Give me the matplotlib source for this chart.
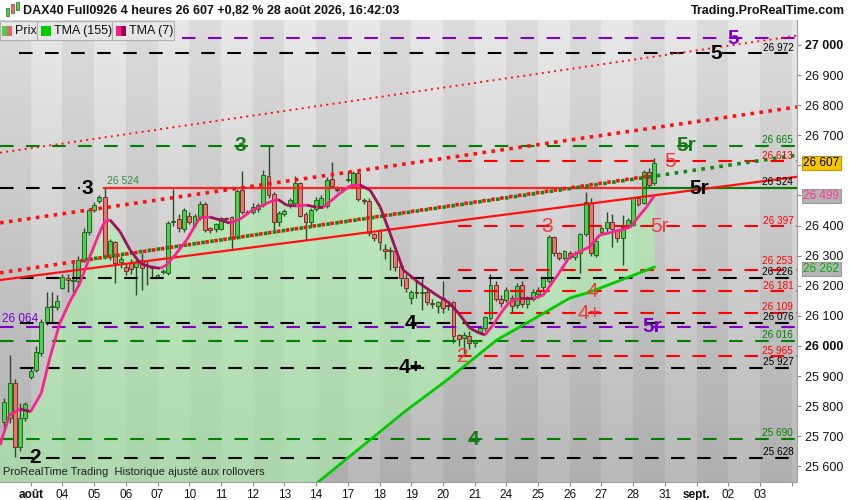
import numpy as np
import matplotlib.pyplot as plt
import matplotlib.transforms as mtransforms
from matplotlib.collections import LineCollection
from matplotlib.colors import LinearSegmentedColormap
from matplotlib.patches import Rectangle

plt.rcParams['font.family'] = ['Liberation Sans', 'DejaVu Sans']

# 4h candles, index 0 = first bar shown (31 juil.), 6 bars per day
opens = [25749, 25760, 25876, 25663, 25762, 25898, 25920, 25975, 26081, 26128,
         26131, 26194, 26226, 26215, 26216, 26286, 26378, 26452, 26480, 26496,
         26297, 26344, 26278, 26264, 26277, 26261, 26284, 26270, 26261, 26228,
         26246, 26241, 26411, 26421, 26388, 26433, 26402, 26428, 26472, 26391,
         26389, 26389, 26424, 26428, 26361, 26518, 26444, 26446, 26455, 26468,
         26565, 26505, 26411, 26438, 26468, 26476, 26540, 26437, 26411, 26455,
         26466, 26466, 26555, 26520, 26518, 26553, 26538, 26574, 26485, 26482,
         26371, 26383, 26321, 26318, 26317, 26266, 26227, 26161, 26178, 26176,
         26178, 26144, 26133, 26158, 26136, 26145, 26036, 26025, 26033, 26009,
         26048, 26059, 26092, 26203, 26155, 26153, 26158, 26136, 26203, 26138,
         26156, 26172, 26195, 26215, 26361, 26308, 26291, 26310, 26295, 26310,
         26372, 26474, 26302, 26380, 26391, 26412, 26385, 26358, 26402, 26402,
         26490, 26474, 26577, 26540]
highs = [25826, 25970, 25890, 25810, 25815, 25930, 26000, 26090, 26180, 26180,
         26170, 26238, 26240, 26286, 26300, 26391, 26460, 26478, 26500, 26524,
         26355, 26350, 26300, 26275, 26290, 26285, 26308, 26285, 26263, 26240,
         26255, 26415, 26520, 26440, 26460, 26445, 26440, 26480, 26478, 26395,
         26410, 26430, 26430, 26432, 26520, 26582, 26452, 26475, 26475, 26585,
         26665, 26510, 26450, 26455, 26490, 26565, 26545, 26445, 26460, 26495,
         26500, 26560, 26612, 26530, 26528, 26580, 26580, 26580, 26490, 26490,
         26375, 26388, 26340, 26330, 26320, 26275, 26240, 26185, 26215, 26230,
         26190, 26155, 26150, 26215, 26145, 26150, 26040, 26045, 26050, 26020,
         26065, 26100, 26240, 26215, 26170, 26195, 26170, 26210, 26215, 26165,
         26190, 26195, 26230, 26370, 26365, 26312, 26320, 26315, 26315, 26375,
         26513, 26490, 26355, 26398, 26445, 26440, 26390, 26435, 26425, 26495,
         26498, 26583, 26590, 26623]
lows = [25732, 25745, 25632, 25650, 25750, 25890, 25915, 25965, 26070, 26075,
        26120, 26190, 26180, 26180, 26205, 26280, 26370, 26445, 26475, 26290,
        26285, 26210, 26260, 26235, 26240, 26170, 26186, 26202, 26225, 26225,
        26240, 26235, 26400, 26380, 26380, 26405, 26395, 26420, 26380, 26375,
        26380, 26385, 26415, 26322, 26355, 26440, 26438, 26438, 26445, 26462,
        26490, 26385, 26400, 26432, 26460, 26470, 26430, 26352, 26400, 26448,
        26460, 26460, 26525, 26510, 26512, 26545, 26530, 26480, 26470, 26365,
        26350, 26320, 26290, 26252, 26250, 26200, 26180, 26140, 26160, 26120,
        26135, 26125, 26110, 26110, 26120, 26010, 26000, 25966, 25990, 25995,
        26040, 26050, 26085, 26150, 26130, 26145, 26110, 26125, 26130, 26125,
        26150, 26160, 26185, 26210, 26300, 26285, 26285, 26290, 26285, 26241,
        26365, 26300, 26295, 26375, 26380, 26330, 26345, 26270, 26395, 26398,
        26465, 26470, 26525, 26535]
closes = [25813, 25876, 25663, 25760, 25806, 25917, 25981, 26081, 26128, 26133,
          26151, 26228, 26218, 26218, 26286, 26378, 26452, 26468, 26494, 26300,
          26349, 26275, 26288, 26249, 26257, 26279, 26258, 26265, 26258, 26235,
          26250, 26408, 26416, 26391, 26452, 26413, 26432, 26472, 26385, 26385,
          26404, 26424, 26422, 26361, 26515, 26444, 26446, 26461, 26468, 26568,
          26502, 26413, 26441, 26449, 26485, 26540, 26433, 26411, 26452, 26485,
          26491, 26552, 26532, 26518, 26520, 26555, 26574, 26487, 26483, 26374,
          26358, 26347, 26317, 26316, 26261, 26227, 26192, 26178, 26175, 26178,
          26145, 26140, 26145, 26125, 26134, 26034, 26022, 26038, 26009, 26015,
          26061, 26097, 26203, 26155, 26144, 26186, 26133, 26199, 26138, 26156,
          26180, 26185, 26225, 26361, 26310, 26291, 26315, 26295, 26305, 26371,
          26477, 26308, 26349, 26393, 26413, 26388, 26358, 26394, 26418, 26490,
          26472, 26577, 26535, 26607]

# TMA (7) (bar index, price)
tma7_x = [-0.8, 1, 3, 5, 7, 8.6, 10.5, 12.4, 14.3, 16.2, 18.1, 19, 20, 21.9, 23.8,
          25.7, 27.6, 29.5, 30.7, 32.6, 34.5, 37, 38.9, 40.8, 42.7, 44.6, 46.5,
          48.4, 50.3, 51.8, 53.4, 55.3, 57.2, 59.1, 60.4, 61.6, 63.5, 65.4, 67.3,
          69.2, 71.1, 73, 75.5, 78.6, 81.8, 84.3, 86.2, 88.1, 90, 91, 92.5, 94.4,
          95.7, 97.6, 100.1, 102, 104.5, 107, 108.9, 110.8, 112.7, 114.6, 116.5,
          118.4, 120.3, 121.6, 123]
tma7_y = [25671, 25771, 25790, 25782, 25843, 25959, 26075, 26147, 26208, 26297,
          26380, 26413, 26419, 26380, 26319, 26275, 26263, 26258, 26269, 26308,
          26352, 26426, 26428, 26419, 26408, 26421, 26446, 26463, 26479, 26487,
          26468, 26465, 26468, 26461, 26461, 26479, 26507, 26532, 26535, 26518,
          26463, 26374, 26252, 26208, 26169, 26142, 26103, 26059, 26042, 26037,
          26070, 26120, 26147, 26158, 26158, 26169, 26230, 26297, 26313, 26330,
          26369, 26376, 26385, 26394, 26435, 26463, 26499]

# TMA (155), first points are below the visible range
tma155_x = [-0.8, 30, 59.4, 69.2, 76, 83.8, 93.2, 100, 107, 110.8, 117, 123]
tma155_y = [24790, 25180, 25548, 25688, 25785, 25887, 26020, 26088, 26159, 26179, 26221, 26262]

# horizontal levels: price, colour, first bar
levels = [27023, 26972, 26665, 26613, 26397, 26253, 26226, 26181, 26109, 26076,
          26064, 26016, 25965, 25927, 25690, 25628]
level_colors = ['#8000c8', 'black', '#008000', '#ff0000', '#ff0000', '#ff0000', 'black',
                '#ff0000', '#ff0000', 'black', '#8000c8', '#008000', '#ff0000', 'black',
                '#008000', 'black']
level_start = [33.6, 2.8, -0.8, 85.8, 85.8, 85.8, 3, 85.8, 85.8, 3, -0.8, -0.8, 85.8, 3, -0.8, 3]
level_tagged = [False, True, True, True, True, True, True, True, True, True,
                False, True, True, True, True, True]

swing_high = 26524

# sloping lines (bar index pairs, price pairs)
dot_thin_x, dot_thin_y = [-0.8, 150], [26642, 27031]
dot_up_x, dot_up_y = [-0.8, 150], [26409, 26794]
dot_low_x, dot_low_y = [-0.8, 122.2], [26243, 26565]
dot_green_x, dot_green_y = [15.3, 150], [26286, 26634]
trend_x, trend_y = [-0.8, 150], [26219, 26562]

swing_text = ['3', '2', '4', '4+', '5', '5r', '5', '5r', '3', '5r', '4',
              '5', '3', '5r', '4', '4+', '2']
swing_level = [26524, 25628, 26076, 25927, 26972, 26524, 27023, 26064, 26665, 26665,
               25690, 26613, 26397, 26397, 26181, 26109, 25965]
swing_x = [15.8, 5.8, 76.8, 76.8, 134.7, 131.6, 137.9, 122.7, 44.6, 129, 88.7,
           126, 102.7, 124, 111.2, 110.8, 86.8]
swing_color = ['black', 'black', 'black', 'black', 'black', 'black', '#8000c8', '#8000c8',
               '#1a7a1a', '#1a7a1a', '#1a7a1a', '#f03c3c', '#f03c3c', '#f03c3c',
               '#f03c3c', '#f03c3c', '#f03c3c']

day_labels = ['août', '04', '05', '06', '07', '10', '11', '12', '13', '14', '17', '18',
              '19', '20', '21', '24', '25', '26', '27', '28', '31', 'sept.', '02', '03', '']

last_price = 26607
tma7_last = 26499
tma155_last = 26262

W, H = 850, 500
fig = plt.figure(figsize=(W / 100, H / 100), dpi=100)
fig.patch.set_facecolor('white')
ax = fig.add_axes([0, 18 / H, 797 / W, (482 - 20) / H])

# background: vertical gradient + day bands
grad = np.linspace(0, 1, 256).reshape(-1, 1)
bg = LinearSegmentedColormap.from_list('bg', ['#e8e8e8', '#b9b9b9'])
ax.imshow(grad, cmap=bg, extent=[0, 1, 0, 1], transform=ax.transAxes,
          aspect='auto', zorder=0)
ticks = [5 + 6 * d for d in range(len(day_labels))]
edges = [-0.81] + ticks + [150]
for k in range(len(edges) - 1):
    if k % 2 == 0:
        ax.axvspan(edges[k], edges[k + 1], color='black', alpha=0.05, lw=0, zorder=0.5)

# green zone between the two averages
ax.fill(np.r_[tma7_x, tma155_x[::-1]], np.r_[tma7_y, tma155_y[::-1]],
        color='#a8f5a8', alpha=0.55, lw=0, zorder=1)

# levels
dash = (0, (6.5, 6))
for lv, c, s in zip(levels, level_colors, level_start):
    ax.plot([s, 150], [lv, lv], color=c, lw=1.5, linestyle=dash, zorder=3.5)

ax.plot([-0.8, 14.3], [swing_high, swing_high], color='black', lw=1.5, linestyle=dash, zorder=3.5)
ax.plot([18.9, 121.2], [swing_high, swing_high], color='#ff2020', lw=1.6, zorder=3.5)
ax.plot([121.2, 150], [swing_high, swing_high], color='#0a7a0a', lw=1.6, zorder=3.5)
ax.text(19.5, swing_high + 8, '26 524', color='#3a8a3a', fontsize=7.5, va='bottom', zorder=6)

# sloping lines
ax.plot(dot_thin_x, dot_thin_y, color='#ff1010', lw=1.4, linestyle=(0, (1, 2.2)),
        dash_capstyle='butt', zorder=3.5)
ax.plot(dot_up_x, dot_up_y, color='#ff1010', lw=2.6, linestyle=(0, (1, 1.5)),
        dash_capstyle='butt', zorder=3.5)
ax.plot(dot_low_x, dot_low_y, color='#ff1010', lw=2.6, linestyle=(0, (1, 1.5)),
        dash_capstyle='butt', zorder=3.5)
ax.plot(dot_green_x, dot_green_y, color='#118811', lw=2.6, linestyle=(0, (1, 1.5)),
        dash_capstyle='butt', zorder=3.5)
ax.plot(trend_x, trend_y, color='#ff1010', lw=1.6, zorder=3.5)

# candles
idx = np.arange(len(closes))
o, h, l, c = map(np.array, (opens, highs, lows, closes))
up = c >= o
ax.vlines(idx, l, h, color='#2a4a2a', lw=1, zorder=3)
body = np.maximum(np.abs(c - o), 1.5)
ax.bar(idx, body, bottom=np.minimum(o, c), width=0.74,
       color=np.where(up, '#4ccf4c', '#e8756f'),
       edgecolor=np.where(up, '#1d6b1d', '#7a2f2f'), lw=0.7, zorder=3.2)

# averages
ax.plot(tma155_x, tma155_y, color='#00cc00', lw=2, zorder=4)
pts = np.column_stack([tma7_x, tma7_y])
segs = np.stack([pts[:-1], pts[1:]], axis=1)
seg_cols = ['#ff2090' if b > a else '#a0105a' for a, b in zip(tma7_y[:-1], tma7_y[1:])]
ax.add_collection(LineCollection(segs, colors=seg_cols, lw=2, zorder=4.5))

# swing labels
for t, xx, lv, col in zip(swing_text, swing_x, swing_level, swing_color):
    ax.text(xx, lv, t, color=col, fontsize=15, ha='center', va='center',
            fontweight='normal' if col == '#f03c3c' else 'bold', zorder=6)

# right-hand level tags (26 253 sits a touch higher so it clears 26 226)
for lv, col, tag in zip(levels, level_colors, level_tagged):
    if tag:
        off = 12 if lv == 26253 else 3
        ax.text(149.3, lv + off, f'{lv:,}'.replace(',', ' '), color=col, fontsize=7.2,
                ha='right', va='bottom', zorder=6)
ax.text(149.3, swing_high + 3, f'{swing_high:,}'.replace(',', ' '), color='black',
        fontsize=7.2, ha='right', va='bottom', zorder=6)
ax.text(-0.5, 26064 + 4, '26 064', color='#7a00cc', fontsize=8.5, ha='left',
        va='bottom', zorder=6)

ax.text(0.004, 0.01, 'ProRealTime Trading  Historique ajusté aux rollovers',
        transform=ax.transAxes, fontsize=8, color='#222222', va='bottom', zorder=6)

# axes
ax.set_xlim(-0.81, 150)
ax.set_ylim(25548, 27083)
for s in ['top', 'left']:
    ax.spines[s].set_visible(False)
for s in ['right', 'bottom']:
    ax.spines[s].set_color('#a0a0a0')
    ax.spines[s].set_linewidth(0.8)

ax.yaxis.tick_right()
yt = list(range(25600, 27001, 100))
ax.set_yticks(yt)
# 26 500 / 26 600 sit under the price boxes, as on the reference
ax.set_yticklabels(['' if v in (26500, 26600) else f'{v:,}'.replace(',', ' ') for v in yt])
ax.tick_params(axis='y', length=3, pad=3, labelsize=9, colors='#888888', labelcolor='#111111')
for lab, v in zip(ax.get_yticklabels(), yt):
    if v % 1000 == 0:
        lab.set_fontweight('bold')

ax.set_xticks(ticks)
ax.set_xticklabels(day_labels)
ax.tick_params(axis='x', length=3, pad=2, labelsize=8.5, colors='#888888', labelcolor='#111111')
for lab in ax.get_xticklabels():
    if lab.get_text() in ('août', 'sept.'):
        lab.set_fontweight('bold')

yx = mtransforms.blended_transform_factory(ax.transAxes, ax.transData)
box_kw = dict(transform=yx, fontsize=8.5, va='center', ha='left', zorder=10, clip_on=False)
ax.text(1.008, last_price, f'{last_price:,}'.replace(',', ' '), color='black',
        bbox=dict(boxstyle='square,pad=0.1', fc='#f7c600', ec='#b89a00', lw=0.8), **box_kw)
ax.text(1.008, tma7_last, f'{tma7_last:,}'.replace(',', ' '), color='#ff3399',
        bbox=dict(boxstyle='square,pad=0.1', fc='#b4b4b4', ec='#9a9a9a', lw=0.8), **box_kw)
ax.text(1.008, tma155_last - 6, f'{tma155_last:,}'.replace(',', ' '), color='#00b000',
        bbox=dict(boxstyle='square,pad=0.1', fc='#b4b4b4', ec='#9a9a9a', lw=0.8), **box_kw)


def px_rect(x, y, w, h, **kw):
    fig.add_artist(Rectangle((x / W, 1 - (y + h) / H), w / W, h / H,
                             transform=fig.transFigure, **kw))


# title bar
px_rect(6, 8, 3, 8, fc='#4ccf4c', ec='#1d6b1d', lw=0.5)
px_rect(11, 4, 3, 9, fc='#e8756f', ec='#7a2f2f', lw=0.5)
px_rect(16, 2, 3, 8, fc='#4ccf4c', ec='#1d6b1d', lw=0.5)
fig.text(23 / W, 1 - 11 / H, 'DAX40 Full0926 4 heures 26 607 +0,82 % 28 août 2026, 16:42:03',
         fontsize=9, fontweight='bold', va='center', color='#111111')
fig.text(845 / W, 1 - 11 / H, 'Trading.ProRealTime.com', fontsize=9, fontweight='bold',
         va='center', ha='right', color='#111111')

# legend row
for bx, bw in [(0, 37), (37, 75), (112, 62)]:
    px_rect(bx, 21, bw, 19, fc='#e6e6e6', ec='#b0b0b0', lw=0.8)
px_rect(2, 26, 5, 10, fc='#4ccf4c', lw=0)
px_rect(7, 26, 5, 10, fc='#e06666', lw=0)
px_rect(41, 26, 10, 10, fc='#00cc00', lw=0)
px_rect(116, 26, 5, 10, fc='#ff1a8c', lw=0)
px_rect(121, 26, 5, 10, fc='#990050', lw=0)
for tx, t in [(15, 'Prix'), (54, 'TMA (155)'), (129, 'TMA (7)')]:
    fig.text(tx / W, 1 - 31 / H, t, fontsize=9, va='center', color='#111111')

fig.savefig('out.png', dpi=100)
